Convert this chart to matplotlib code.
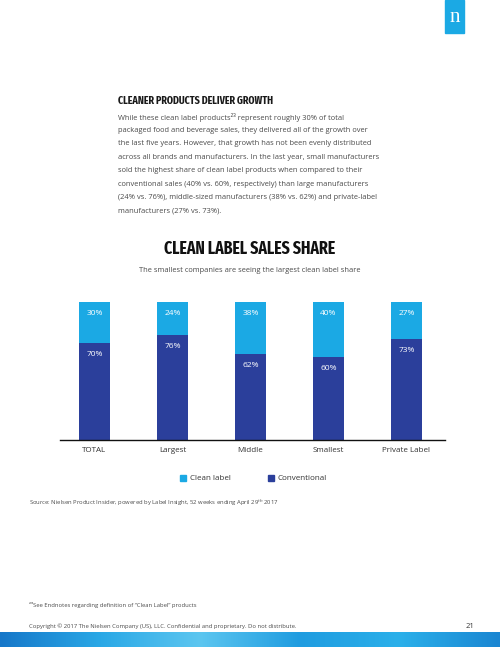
import matplotlib
matplotlib.use('Agg')
import matplotlib.pyplot as plt
import numpy as np
from matplotlib import font_manager
from matplotlib.patches import Rectangle
from matplotlib.colors import LinearSegmentedColormap

# Data
categories = ['TOTAL', 'Largest', 'Middle', 'Smallest', 'Private Label']
conventional = [70, 76, 62, 60, 73]
clean_label = [30, 24, 38, 40, 27]

paragraph = [
    'While these clean label products\u00b2\u00b3 represent roughly 30% of total',
    'packaged food and beverage sales, they delivered all of the growth over',
    'the last five years. However, that growth has not been evenly distributed',
    'across all brands and manufacturers. In the last year, small manufacturers',
    'sold the highest share of clean label products when compared to their',
    'conventional sales (40% vs. 60%, respectively) than large manufacturers',
    '(24% vs. 76%), middle-sized manufacturers (38% vs. 62%) and private-label',
    'manufacturers (27% vs. 73%).',
]

CLEAN = '#1ba9e4'
CONV = '#2b3f9b'
GREY = '#4a4a4a'

names = {f.name for f in font_manager.fontManager.ttflist}
BODY = 'Open Sans' if 'Open Sans' in names else 'DejaVu Sans'
plt.rcParams['font.family'] = BODY
plt.rcParams['mathtext.fontset'] = 'custom'
plt.rcParams['mathtext.rm'] = BODY


def narrow_font():
    # look for a condensed / narrow face for the headline style
    best = None
    for f in font_manager.fontManager.ttflist:
        label = (f.name + ' ' + f.fname).lower()
        narrow = ('condensed' in str(f.stretch) or 'narrow' in label
                  or 'condensed' in label)
        if not narrow or f.style != 'normal':
            continue
        score = 0
        if 'extra' in str(f.stretch) or 'extracondensed' in label:
            score += 2
        if f.weight in ('bold', 700, 600, 'semibold', 'demibold') or 'bold' in label:
            score += 1
        if best is None or score > best[0]:
            best = (score, f.fname)
    if best:
        return font_manager.FontProperties(fname=best[1])
    return font_manager.FontProperties(family='DejaVu Sans', weight='bold')


HEAD = narrow_font()

W, H = 500, 647
fig = plt.figure(figsize=(W / 100, H / 100), dpi=100)
renderer = fig.canvas.get_renderer()


def fx(x):
    return x / W


def fy(y):
    return 1 - y / H


def fit_text(t, width_px):
    # shrink/grow the font so the text spans the width seen on the page
    w = t.get_window_extent(renderer).width
    t.set_fontsize(t.get_fontsize() * width_px / w)


# header text block
head = fig.text(fx(118), fy(100.5), 'CLEANER PRODUCTS DELIVER GROWTH', fontproperties=HEAD,
                fontsize=10, color='#1a1a1a', va='center')
fit_text(head, 156)
for i, line in enumerate(paragraph):
    fig.text(fx(118), fy(117 + i * 13.4), line, fontsize=5.45, color=GREY, va='center')

# chart titles
title = fig.text(0.5, fy(249), 'CLEAN LABEL SALES SHARE', fontproperties=HEAD,
                 fontsize=14, color='#111111', ha='center', va='center')
fit_text(title, 172)
fig.text(0.5, fy(271), 'The smallest companies are seeing the largest clean label share',
         fontsize=5.4, color=GREY, ha='center', va='center')

# bar chart
ax = fig.add_axes([fx(60), fy(440), fx(445 - 60), (440 - 302) / H])
x = range(len(categories))
ax.bar(x, conventional, width=0.40, color=CONV)
ax.bar(x, clean_label, bottom=conventional, width=0.40, color=CLEAN)
for i in x:
    ax.text(i, 100 - 8.5, f'{clean_label[i]}%', color='white', fontsize=6,
            ha='center', va='center')
    ax.text(i, conventional[i] - 8, f'{conventional[i]}%', color='white', fontsize=6,
            ha='center', va='center')
ax.set_xlim(-0.442, 4.494)
ax.set_ylim(0, 100)
ax.set_yticks([])
ax.set_xticks(list(x))
ax.set_xticklabels(categories, fontsize=5.8, color='#333333')
ax.tick_params(axis='x', length=0, pad=5)
for s in ['top', 'right', 'left']:
    ax.spines[s].set_visible(False)
ax.spines['bottom'].set_linewidth(1.0)
ax.spines['bottom'].set_color('#111111')

# legend
fig.patches.append(Rectangle((fx(180), fy(481)), fx(6), 6 / H, color=CLEAN,
                             transform=fig.transFigure))
fig.text(fx(190), fy(478), 'Clean label', fontsize=5.8, color='#333333', va='center')
fig.patches.append(Rectangle((fx(268), fy(481)), fx(6), 6 / H, color=CONV,
                             transform=fig.transFigure))
fig.text(fx(277), fy(478), 'Conventional', fontsize=5.8, color='#333333', va='center')

# notes
fig.text(fx(29), fy(503), 'Source: Nielsen Product Insider, powered by Label Insight, 52 weeks ending April 29$^{th}$ 2017',
         fontsize=4.2, color=GREY, va='center')
fig.text(fx(29), fy(605), '\u00b2\u00b3See Endnotes regarding definition of \u201cClean Label\u201d products',
         fontsize=4.2, color=GREY, va='center')
fig.text(fx(29), fy(626), 'Copyright \u00a9 2017 The Nielsen Company (US), LLC. Confidential and proprietary. Do not distribute.',
         fontsize=4.2, color=GREY, va='center')
fig.text(fx(470), fy(626), '21', fontsize=5.5, color='#333333', va='center', ha='center')

# logo
fig.patches.append(Rectangle((fx(445), fy(33)), fx(19), 33 / H, color='#1ba9e4',
                             transform=fig.transFigure))
fig.text(fx(454.5), fy(18), 'n', fontsize=15, family='Liberation Serif', color='white',
         ha='center', va='center')

# blue band at page bottom (decorative gradient)
band = fig.add_axes([0, 0, 1, (H - 632) / H])
band_cmap = LinearSegmentedColormap.from_list(
    'band', ['#1677c9', '#2aa8e6', '#5cc6f0', '#1f9ce0', '#2bb0ea', '#1a86d2'])
band.imshow(np.linspace(0, 1, 256)[None, :], aspect='auto', cmap=band_cmap)
band.axis('off')

fig.savefig('out.png', dpi=100)
